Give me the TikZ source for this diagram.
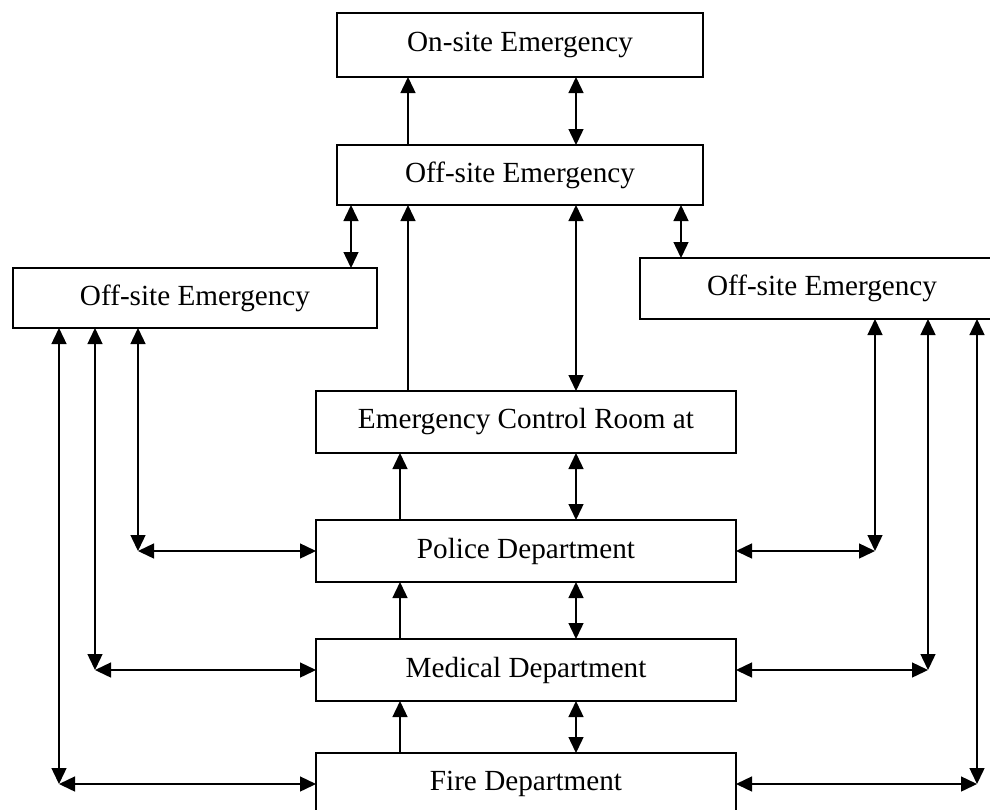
\documentclass[tikz,border=0pt]{standalone}
\usepackage{fontspec}
\setmainfont{Liberation Serif}
\usetikzlibrary{arrows.meta}
\begin{document}
\begin{tikzpicture}[x=1pt,y=-1pt,
  box/.style={draw, rectangle, line width=1.6pt, inner sep=0pt, outer sep=0pt,
              font=\fontsize{29.2}{35}\selectfont},
  tip/.tip={Triangle[length=16pt,width=15pt]},
  conn/.style={line width=1.4pt, -tip},
  dconn/.style={line width=1.4pt, tip-tip}]
\path[use as bounding box, fill=white] (0,0) rectangle (990,809);
\clip (0,0) rectangle (990,809);

% boxes
\node[box, minimum width=366pt, minimum height=64pt] (onsite)  at (520,45)    {On-site Emergency};
\node[box, minimum width=366pt, minimum height=60pt] (offtop)  at (520,175)   {Off-site Emergency};
\node[box, minimum width=364pt, minimum height=60pt] (offleft) at (195,298)   {Off-site Emergency};
\node[box, minimum width=364pt, minimum height=61pt] (offright) at (822,288.5) {Off-site Emergency};
\node[box, minimum width=420pt, minimum height=62pt] (ecr)     at (526,422)   {Emergency Control Room at};
\node[box, minimum width=420pt, minimum height=62pt] (police)  at (526,551)   {Police Department};
\node[box, minimum width=420pt, minimum height=62pt] (medical) at (526,670)   {Medical Department};
\node[box, minimum width=420pt, minimum height=62pt] (fire)    at (526,784)   {Fire Department};

% column coordinates
\coordinate (c408) at (408,0);
\coordinate (c576) at (576,0);
\coordinate (c351) at (351,0);
\coordinate (c681) at (681,0);
\coordinate (c400) at (400,0);
\coordinate (c138) at (138,0);
\coordinate (c95)  at (95,0);
\coordinate (c59)  at (59,0);
\coordinate (c875) at (875,0);
\coordinate (c928) at (928,0);
\coordinate (c977) at (977,0);

% central links
\draw[conn]  (offtop.north -| c408) -- (onsite.south -| c408);
\draw[dconn] (offtop.north -| c576) -- (onsite.south -| c576);
\draw[dconn] (offtop.south -| c351) -- (offleft.north -| c351);
\draw[dconn] (offtop.south -| c681) -- (offright.north -| c681);
\draw[conn]  (ecr.north -| c408) -- (offtop.south -| c408);
\draw[dconn] (ecr.north -| c576) -- (offtop.south -| c576);
\draw[conn]  (police.north -| c400) -- (ecr.south -| c400);
\draw[dconn] (police.north -| c576) -- (ecr.south -| c576);
\draw[conn]  (medical.north -| c400) -- (police.south -| c400);
\draw[dconn] (medical.north -| c576) -- (police.south -| c576);
\draw[conn]  (fire.north -| c400) -- (medical.south -| c400);
\draw[dconn] (fire.north -| c576) -- (medical.south -| c576);

% left corners
\coordinate (kL1) at (police.west -| c138);
\coordinate (kL2) at (medical.west -| c95);
\coordinate (kL3) at (fire.west -| c59);
\draw[dconn] (offleft.south -| c138) -- (kL1);
\draw[dconn] (kL1) -- (police.west);
\draw[dconn] (offleft.south -| c95) -- (kL2);
\draw[dconn] (kL2) -- (medical.west);
\draw[dconn] (offleft.south -| c59) -- (kL3);
\draw[dconn] (kL3) -- (fire.west);

% right corners
\coordinate (kR1) at (police.east -| c875);
\coordinate (kR2) at (medical.east -| c928);
\coordinate (kR3) at (fire.east -| c977);
\draw[dconn] (offright.south -| c875) -- (kR1);
\draw[dconn] (police.east) -- (kR1);
\draw[dconn] (offright.south -| c928) -- (kR2);
\draw[dconn] (medical.east) -- (kR2);
\draw[dconn] (offright.south -| c977) -- (kR3);
\draw[dconn] (fire.east) -- (kR3);
\end{tikzpicture}
\end{document}
